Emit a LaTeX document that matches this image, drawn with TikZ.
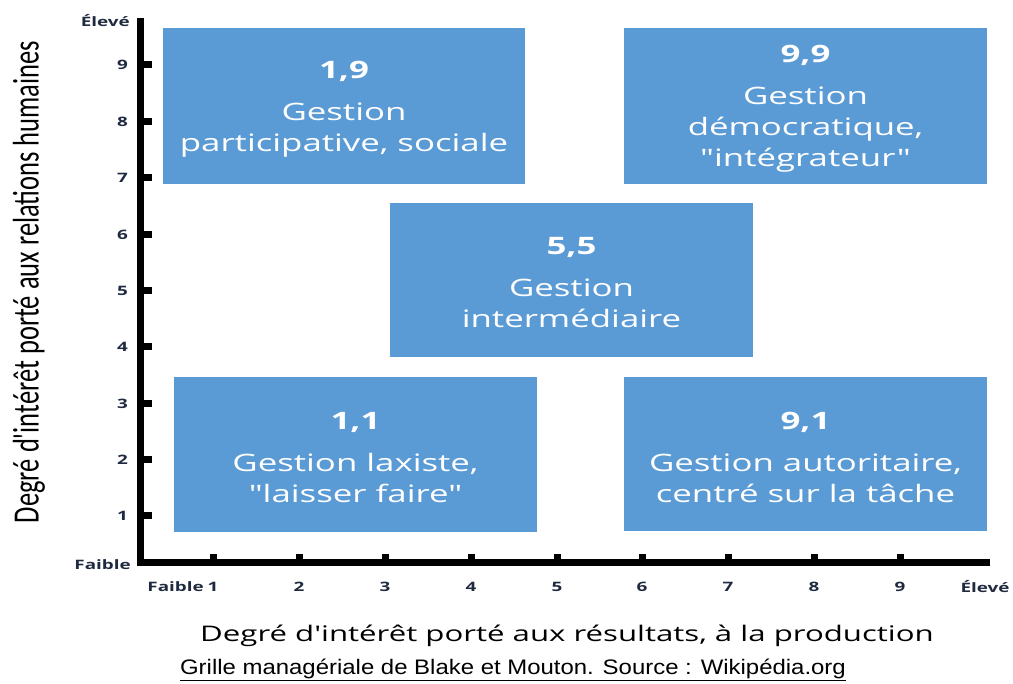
\documentclass[tikz,border=0pt]{standalone}
\usepackage{fontspec}
\setmainfont{Open Sans}[Ligatures=TeXOff]
\newfontfamily\calib{Carlito}[Ligatures=TeXOff]
\newfontfamily\boxf{Open Sans}[Ligatures=TeXOff, FakeStretch=1.45]
\newfontfamily\tickf{Open Sans}[Ligatures=TeXOff, FakeStretch=1.45]
\newfontfamily\titlef{Open Sans}[Ligatures=TeXOff, FakeStretch=1.45]
\newfontfamily\narrow{Liberation Sans}[FakeStretch=1.14]
\definecolor{boxblue}{HTML}{5B9BD5}
\definecolor{navy}{HTML}{1F2A40}
\tikzset{
  box/.style={fill=boxblue, draw=none, inner sep=0pt},
  boxtext/.style={text=white, align=center, font=\boxf\fontsize{24}{31}\selectfont, inner sep=0pt},
  axis/.style={line width=7pt, black},
  tick/.style={line width=7pt, black},
  ylab/.style={anchor=east, text=navy, font=\tickf\fontsize{13}{15}\selectfont\bfseries, inner sep=0pt},
  xlab/.style={anchor=center, text=navy, font=\tickf\fontsize{13}{15}\selectfont\bfseries, inner sep=0pt},
}
\newcommand{\ttl}[1]{{\bfseries #1}\\[11pt]}
\begin{document}
\begin{tikzpicture}[x=1pt,y=-1pt]
\useasboundingbox (0,0) rectangle (1013,684);
% boxes
\node[box, minimum width=362pt, minimum height=156pt] (b19) at (344,106) {};
\node[box, minimum width=363pt, minimum height=156pt] (b99) at (805.5,106) {};
\node[box, minimum width=363pt, minimum height=154pt] (b55) at (571.5,280) {};
\node[box, minimum width=363pt, minimum height=155pt] (b11) at (355.5,454.5) {};
\node[box, minimum width=363pt, minimum height=154pt] (b91) at (805.5,454) {};
\node[boxtext] (t19) at ([yshift=-3pt]b19.center) {\ttl{1,9}Gestion\\participative, sociale};
\node[boxtext] (t99) at ([yshift=-3pt]b99.center) {\ttl{9,9}Gestion\\démocratique,\\"intégrateur"};
\node[boxtext] (t55) at ([yshift=-3pt]b55.center) {\ttl{5,5}Gestion\\intermédiaire};
\node[boxtext] (t11) at ([yshift=-3pt]b11.center) {\ttl{1,1}Gestion laxiste,\\"laisser faire"};
\node[boxtext] (t91) at ([yshift=-3pt]b91.center) {\ttl{9,1}Gestion autoritaire,\\centré sur la tâche};
% axes
\coordinate (top) at (140,18);
\coordinate (orig) at (140,563);
\coordinate (xend) at (990,563);
\draw[axis] (top) -- (140,566.5);
\draw[axis] (136.5,563) -- (xend);
% y ticks
\foreach \v/\yy in {9/65,8/122,7/178,6/235,5/291,4/347,3/404,2/460,1/516}{
  \coordinate (yt\v) at (140,\yy);
  \draw[tick] (yt\v) -- ++(12,0);
  \node[ylab] (yl\v) at (128,\yy) {\v};
}
\node[ylab] (ytop) at (130,21) {Élevé};
\node[ylab] (ybot) at (131,565) {Faible};
% x ticks
\foreach \v/\xx in {1/213,2/299,3/385,4/471,5/557,6/642,7/728,8/814,9/900}{
  \coordinate (xt\v) at (\xx,563);
  \draw[tick] (xt\v) -- ++(0,-9);
  \node[xlab] (xl\v) at (\xx,587) {\v};
}
\node[xlab, anchor=east] (xlow) at (204,587) {Faible};
\node[xlab] (xhigh) at (985,587) {Élevé};
% axis titles
\node[rotate=90, font=\calib\fontsize{26.5}{28}\selectfont, inner sep=0pt] (ytitle) at (29,282) {\scalebox{1}[1.4]{Degré d'intérêt porté aux relations humaines}};
\node[font=\titlef\fontsize{21.5}{24}\selectfont, inner sep=0pt] (xtitle) at (567,636) {Degré d'intérêt porté aux résultats, à la production};
\node[font=\narrow\fontsize{21}{24}\selectfont, inner sep=0pt] (cap) at (513,670) {\underline{Grille managériale de Blake et Mouton. Source : Wikipédia.org}};
\end{tikzpicture}
\end{document}
